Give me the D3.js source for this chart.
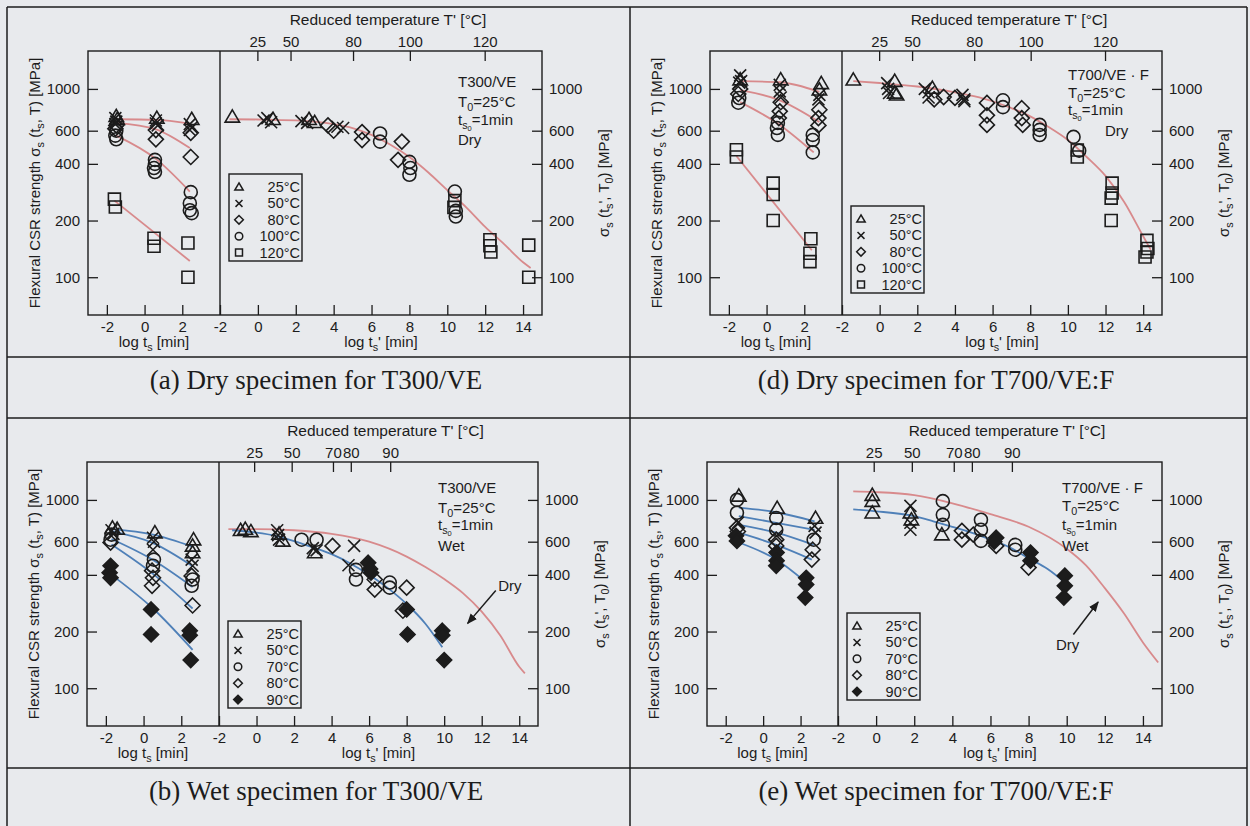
<!DOCTYPE html>
<html>
<head>
<meta charset="utf-8">
<script src="https://cdn.jsdelivr.net/npm/d3@7"></script>
<style>
  body { margin: 0; background: #e8eaed; }
  svg { display: block; font-family: "Liberation Sans", Arial, sans-serif; }
</style>
</head>
<body>
<script>
'use strict';

/* ---------- shared axis values ---------- */
const yTicks = [100, 200, 400, 600, 1000];
const leftXTicks = [-2, 0, 2];
const rightXTicks = [-2, 0, 2, 4, 6, 8, 10, 12, 14];

const dryTemps = ['25°C', '50°C', '80°C', '100°C', '120°C'];
const dryShapes = ['triangle', 'cross', 'diamond', 'circle', 'square'];
const wetTemps = ['25°C', '50°C', '70°C', '80°C', '90°C'];
const wetShapes = ['triangle', 'cross', 'circle', 'diamond', 'filledDiamond'];

/* reduced temperature ticks on top axis: label and log t' position */
const dryTopTemps = [25, 50, 80, 100, 120];
const dryTopPos = [0, 1.75, 5.05, 8.05, 12.0];
const wetTopTemps = [25, 50, 70, 80, 90];
const wetTopPos = [-0.1, 1.9, 4.1, 5.05, 7.15];

/* ---------- (a) dry T300/VE : [log t, MPa, series] ---------- */
const aLeftPts = [
  [-1.5,715,0],[-1.45,690,0],[-1.55,700,1],[-1.5,670,1],[-1.55,650,1],[-1.5,640,2],[-1.55,615,2],
  [-1.5,600,3],[-1.55,565,3],[-1.5,540,3],[-1.6,260,4],[-1.55,236,4],
  [0.65,700,0],[0.6,680,1],[0.6,655,1],[0.7,640,1],[0.6,605,2],[0.6,540,2],
  [0.55,420,3],[0.55,400,3],[0.5,380,3],[0.55,362,3],[0.5,161,4],[0.5,146,4],
  [2.5,690,0],[2.4,650,1],[2.5,625,1],[2.4,605,1],[2.45,585,2],[2.45,435,2],
  [2.45,283,3],[2.4,247,3],[2.4,227,3],[2.5,219,3],[2.3,152,4],[2.3,100,4]
];
const aLeftFits = [
  [[-1.5,690],[0.6,685],[2.4,655]],
  [[-1.5,660],[0.6,610],[2.4,485]],
  [[-1.5,565],[0.6,425],[2.4,285]],
  [[-1.6,255],[2.4,122]]
];
const aRightPts = [
  [-1.35,710,0],[0.3,680,1],[0.5,700,1],[0.7,665,1],[0.8,690,0],[2.3,675,1],[2.6,660,1],[2.7,690,0],[3.0,665,0],
  [3.7,640,2],[4.0,600,2],[4.2,630,1],[4.5,620,1],
  [5.5,590,2],[5.5,535,2],[6.45,580,3],[6.45,525,3],[7.6,525,2],[7.4,420,2],
  [8.0,410,3],[8.05,380,3],[8.0,350,3],
  [10.4,285,3],[10.4,255,4],[10.35,235,4],[10.45,225,3],[10.45,210,3],
  [12.25,158,4],[12.25,147,4],[12.3,136,4],[14.3,148,4],[14.3,100,4]
];
const aMaster = [[-1.5,690],[0,688],[2,680],[4,650],[5,620],[6,570],[7,505],[8,435],[9,360],[10,290],[11,235],[12,185],[13,150],[14,120],[14.4,112]];

/* ---------- (d) dry T700/VE:F ---------- */
const dLeftPts = [
  [-1.4,1120,0],[-1.4,1180,1],[-1.35,1100,1],[-1.45,1080,1],[-1.4,1000,2],[-1.5,940,2],[-1.45,895,3],[-1.5,845,3],
  [-1.6,475,4],[-1.6,435,4],
  [0.75,1120,0],[0.7,1050,1],[0.7,970,1],[0.75,900,1],[0.75,850,2],[0.7,760,2],[0.65,700,2],
  [0.6,660,3],[0.55,620,3],[0.6,570,3],[0.35,316,4],[0.35,275,4],[0.35,200,4],
  [2.9,1070,0],[2.8,990,0],[2.8,930,1],[2.75,880,1],[2.8,775,2],[2.75,700,2],[2.75,640,2],
  [2.45,570,3],[2.45,535,3],[2.45,460,3],[2.35,160,4],[2.3,134,4],[2.3,121,4]
];
const dLeftFits = [
  [[-1.4,1100],[0.7,1085],[2.8,965]],
  [[-1.4,985],[0.7,870],[2.8,667]],
  [[-1.4,851],[0.7,644],[2.5,460]],
  [[-1.6,440],[2.4,139]]
];
const dRightPts = [
  [-1.4,1117,0],[0.4,1074,1],[0.45,1000,1],[0.5,952,1],[0.8,1100,0],[0.8,952,0],[0.9,930,0],
  [2.4,1000,1],[2.6,960,1],[2.6,900,1],[2.8,1010,0],[2.9,880,2],
  [3.4,906,2],[4.0,896,2],[4.4,930,1],[4.5,880,1],[4.5,860,1],
  [5.7,843,2],[5.7,724,2],[5.7,644,2],[6.55,870,3],[6.55,800,3],
  [7.55,790,2],[7.55,700,2],[7.6,644,2],[8.5,644,3],[8.5,606,3],[8.5,569,3],
  [10.3,556,3],[10.5,474,4],[10.5,435,4],[10.6,470,3],
  [12.35,316,4],[12.35,280,4],[12.3,263,4],[12.3,200,4],
  [14.2,157,4],[14.25,142,4],[14.1,128,4],[14.2,136,4]
];
const dMaster = [[-1.4,1100],[0,1075],[2,1030],[4,960],[5,915],[6,860],[7,790],[8,715],[9,625],[10,535],[11,435],[12,345],[13,250],[14,165],[14.4,140]];

/* ---------- (b) wet T300/VE ---------- */
const bLeftPts = [
  [-1.65,711,0],[-1.4,700,0],[-1.7,690,1],[-1.6,660,1],[-1.7,654,2],[-1.75,615,2],[-1.75,594,3],
  [-1.75,447,4],[-1.8,411,4],[-1.75,386,4],
  [0.6,670,0],[0.5,630,1],[0.55,600,1],[0.5,544,1],[0.55,482,2],[0.5,447,2],
  [0.45,421,3],[0.5,386,3],[0.45,350,3],[0.4,262,4],[0.4,193,4],
  [2.65,615,0],[2.6,570,0],[2.6,525,0],[2.55,482,1],[2.6,447,1],[2.6,378,2],[2.55,350,2],
  [2.55,395,3],[2.6,275,3],[2.45,202,4],[2.45,191,4],[2.5,141,4]
];
const bLeftFits = [
  [[-1.7,700],[0.5,655],[2.6,565]],
  [[-1.7,680],[0.5,590],[2.6,445]],
  [[-1.7,620],[0.5,480],[2.6,345]],
  [[-1.7,580],[0.5,405],[2.6,265]],
  [[-1.7,400],[0.5,265],[2.6,160]]
];
const bRightPts = [
  [-0.85,690,0],[-0.6,700,0],[-0.3,680,0],[1.1,690,1],[1.15,650,1],[1.2,615,1],[1.4,606,0],[1.2,660,0],
  [2.4,615,2],[3.0,555,1],[3.1,525,0],[3.2,540,1],[3.2,615,2],[4.05,570,3],
  [5.2,570,1],[4.9,450,1],[5.3,425,2],[5.3,378,2],[5.95,464,4],[6.05,430,4],[6.1,411,4],[6.3,378,3],[6.3,334,3],
  [7.1,364,2],[7.1,342,2],[8.0,342,3],[7.8,258,3],[8.0,262,4],[8.05,193,4],
  [9.9,202,4],[9.9,191,4],[10.0,141,4]
];
const bMaster = [[-1.3,690],[0,670],[1,645],[2,605],[3,560],[4,515],[5,460],[6,400],[7,340],[8,280],[9,220],[9.9,165]];
const bDryRef = [[-1.5,700],[0,700],[2,690],[4,660],[6,600],[8,500],[9,440],[10,380],[11,320],[12,255],[13,190],[14,130],[14.3,120]];
const bArrow = [[12.75,330],[11.25,221]];
const bDryLabel = [13.5,350];

/* ---------- (e) wet T700/VE:F ---------- */
const eLeftPts = [
  [-1.3,1050,0],[-1.4,1000,2],[-1.4,855,2],[-1.35,756,1],[-1.4,711,3],[-1.35,680,3],[-1.45,645,4],[-1.4,606,4],
  [0.75,905,0],[0.7,801,2],[0.7,694,2],[0.72,645,1],[0.7,615,3],[0.7,570,3],[0.72,525,4],[0.72,476,4],[0.7,447,4],
  [2.8,801,0],[2.75,728,1],[2.8,670,1],[2.7,615,2],[2.65,544,3],[2.6,482,3],[2.3,386,4],[2.3,355,4],[2.25,303,4]
];
const eLeftFits = [
  [[-1.3,910],[0.7,860],[2.75,770]],
  [[-1.3,820],[0.7,756],[2.75,694]],
  [[-1.3,737],[0.7,670],[2.7,577]],
  [[-1.3,670],[0.7,577],[2.6,482]],
  [[-1.3,594],[0.7,482],[2.3,364]]
];
const eRightPts = [
  [-0.2,1060,0],[-0.2,985,0],[-0.2,855,0],[1.8,930,1],[1.8,756,1],[1.8,694,1],[1.8,855,0],[1.85,785,0],
  [3.5,985,2],[3.5,833,2],[3.5,737,2],[3.45,654,0],[4.5,685,3],[4.5,615,3],[5.1,654,3],
  [5.5,785,2],[5.5,694,2],[5.5,606,2],[6.3,630,4],[6.3,570,3],[6.2,600,4],
  [7.3,577,2],[7.3,544,2],[8.1,525,4],[8.1,476,4],[8.0,437,3],
  [9.9,396,4],[9.9,350,4],[9.85,303,4]
];
const eMaster = [[-1.2,890],[0,870],[2,820],[3,770],[4,720],[5,670],[6,615],[7,560],[8,490],[9,430],[9.9,365]];
const eDryRef = [[-1.2,1110],[0,1100],[2,1060],[4,960],[6,840],[8,720],[10,550],[11,450],[12,340],[13,250],[14,175],[14.8,137]];
const eArrow = [[10.35,193],[11.65,287]];
const eDryLabel = [10.05,169];

/* ---------- colours ---------- */
const ink = '#1c1c1c';
const pink = '#d88a8c';
const blue = '#4f80b8';
const fs = 15;

const svg = d3.select('body').append('svg')
  .attr('width', 1250)
  .attr('height', 826);

svg.append('defs').append('marker')
  .attr('id', 'arrowhead')
  .attr('viewBox', '0 0 10 10')
  .attr('refX', 9).attr('refY', 5)
  .attr('markerWidth', 7).attr('markerHeight', 7)
  .attr('orient', 'auto')
  .append('path')
    .attr('d', 'M0,1L10,5L0,9Z')
    .attr('fill', ink);

/* outer table grid of the figure */
const gridH = [7, 357, 418, 768];
const gridV = [7, 630, 1247];
gridH.forEach(function(y){
  svg.append('line').attr('x1', 7).attr('x2', 1247).attr('y1', y).attr('y2', y)
    .attr('stroke', ink).attr('stroke-width', 1.5);
});
gridV.forEach(function(x){
  svg.append('line').attr('x1', x).attr('x2', x).attr('y1', 7).attr('y2', 826)
    .attr('stroke', ink).attr('stroke-width', 1.5);
});

/* text with sub / sub-sub scripts: parts are strings or [text, level] */
function rich(sel, parts){
  let shift = 0;
  parts.forEach(function(pt){
    let txt = typeof pt === 'string' ? pt : pt[0];
    let lvl = typeof pt === 'string' ? 0 : pt[1];
    let target = lvl === 1 ? 4 : (lvl === 2 ? 6 : 0);
    sel.append('tspan')
      .attr('dy', target - shift)
      .attr('font-size', lvl === 1 ? '0.72em' : (lvl === 2 ? '0.5em' : null))
      .text(txt);
    shift = target;
  });
}

/* marker outline for each series shape, k scales it */
function shapePath(shape, k){
  let p = d3.path();
  if (shape === 'triangle'){
    p.moveTo(0, -7*k); p.lineTo(7.2*k, 5.2*k); p.lineTo(-7.2*k, 5.2*k); p.closePath();
  } else if (shape === 'square'){
    p.rect(-6*k, -6*k, 12*k, 12*k);
  } else if (shape === 'circle'){
    p.arc(0, 0, 6.5*k, 0, 2*Math.PI);
  } else if (shape === 'cross'){
    p.moveTo(-6*k, -6*k); p.lineTo(6*k, 6*k);
    p.moveTo(6*k, -6*k); p.lineTo(-6*k, 6*k);
  } else {
    p.moveTo(0, -7.5*k); p.lineTo(7.5*k, 0); p.lineTo(0, 7.5*k); p.lineTo(-7.5*k, 0); p.closePath();
  }
  return p.toString();
}

function drawMarks(g, pts, xs, y, shapes){
  g.append('g').selectAll('path')
    .data(pts)
    .enter().append('path')
      .attr('d', function(d){ return shapePath(shapes[d[2]], 1); })
      .attr('transform', function(d){ return 'translate(' + xs(d[0]) + ',' + y(d[1]) + ')'; })
      .attr('fill', function(d){ return shapes[d[2]] === 'filledDiamond' ? ink : 'none'; })
      .attr('stroke', ink)
      .attr('stroke-width', 1.6);
}

function drawPanel(p){
  let g = svg.append('g');
  let xL = d3.scaleLinear().domain([-3, 4]).range([p.x0, p.xd]);
  let xR = d3.scaleLinear().domain([-2, 15]).range([p.xd, p.x1]);
  let y = d3.scaleLog().domain([63, 1590]).range([p.yB, p.yT]);
  let lineOn = function(xs){
    return d3.line().x(function(d){ return xs(d[0]); }).y(function(d){ return y(d[1]); })
      .curve(d3.curveMonotoneX);
  };
  let fitColor = p.wet ? blue : pink;

  /* fitted curves */
  p.leftFits.forEach(function(f){
    g.append('path').attr('d', lineOn(xL)(f))
      .attr('fill', 'none').attr('stroke', fitColor).attr('stroke-width', 1.8);
  });
  if (p.dryRef){
    g.append('path').attr('d', lineOn(xR)(p.dryRef))
      .attr('fill', 'none').attr('stroke', pink).attr('stroke-width', 1.8);
  }
  g.append('path').attr('d', lineOn(xR)(p.master))
    .attr('fill', 'none').attr('stroke', fitColor).attr('stroke-width', 1.8);

  /* data points */
  drawMarks(g, p.leftPts, xL, y, p.shapes);
  drawMarks(g, p.rightPts, xR, y, p.shapes);

  /* frames */
  g.append('rect')
    .attr('x', p.x0).attr('y', p.yT)
    .attr('width', p.x1 - p.x0).attr('height', p.yB - p.yT)
    .attr('fill', 'none').attr('stroke', ink).attr('stroke-width', 1.4);
  g.append('line')
    .attr('x1', p.xd).attr('x2', p.xd).attr('y1', p.yT).attr('y2', p.yB)
    .attr('stroke', ink).attr('stroke-width', 1.4);

  /* axes */
  let styleAxis = function(a){
    a.select('.domain').remove();
    a.selectAll('line').attr('stroke', ink).attr('stroke-width', 1.3);
    a.selectAll('text').attr('font-size', fs).attr('fill', ink)
      .attr('font-family', '"Liberation Sans", Arial, sans-serif');
  };
  let fmt = function(d){ return String(d); };
  g.append('g').attr('transform', 'translate(' + p.x0 + ',0)')
    .call(d3.axisLeft(y).tickValues(yTicks).tickFormat(fmt).tickSize(-10).tickPadding(8))
    .call(styleAxis);
  g.append('g').attr('transform', 'translate(' + p.x1 + ',0)')
    .call(d3.axisRight(y).tickValues(yTicks).tickFormat(fmt).tickSize(-10).tickPadding(7))
    .call(styleAxis);
  g.append('g').attr('transform', 'translate(0,' + p.yB + ')')
    .call(d3.axisBottom(xL).tickValues(leftXTicks).tickFormat(fmt).tickSize(-10).tickPadding(6))
    .call(styleAxis);
  g.append('g').attr('transform', 'translate(0,' + p.yB + ')')
    .call(d3.axisBottom(xR).tickValues(rightXTicks).tickFormat(fmt).tickSize(-10).tickPadding(6))
    .call(styleAxis);

  /* top axis: reduced temperature */
  let top = g.append('g');
  p.topPos.forEach(function(pos, i){
    top.append('line')
      .attr('x1', xR(pos)).attr('x2', xR(pos))
      .attr('y1', p.yT).attr('y2', p.yT + 10)
      .attr('stroke', ink).attr('stroke-width', 1.3);
    top.append('text')
      .attr('x', xR(pos)).attr('y', p.yT - 4)
      .attr('text-anchor', 'middle').attr('font-size', fs).attr('fill', ink)
      .text(p.topTemps[i]);
  });
  top.append('text')
    .attr('x', (p.xd + p.x1) / 2 + 7).attr('y', p.yT - 26)
    .attr('text-anchor', 'middle').attr('font-size', 15.5).attr('fill', ink)
    .text("Reduced temperature T' [°C]");

  /* axis titles */
  let lt = g.append('text')
    .attr('transform', 'translate(' + (p.x0 - 48) + ',' + ((p.yT + p.yB) / 2) + ') rotate(-90)')
    .attr('text-anchor', 'middle').attr('font-size', fs).attr('fill', ink);
  rich(lt, ['Flexural CSR strength σ', ['s', 1], ' (t', ['s', 1], ', T) [MPa]']);
  let rt = g.append('text')
    .attr('transform', 'translate(' + (p.x1 + 67) + ',' + ((p.yT + p.yB) / 2) + ') rotate(-90)')
    .attr('text-anchor', 'middle').attr('font-size', fs).attr('fill', ink);
  rich(rt, ['σ', ['s', 1], " (t", ['s', 1], "', T", ['0', 1], ') [MPa]']);
  let bl = g.append('text')
    .attr('x', (p.x0 + p.xd) / 2).attr('y', p.yB + 32)
    .attr('text-anchor', 'middle').attr('font-size', fs).attr('fill', ink);
  rich(bl, ['log t', ['s', 1], ' [min]']);
  let br = g.append('text')
    .attr('x', (p.xd + p.x1) / 2).attr('y', p.yB + 32)
    .attr('text-anchor', 'middle').attr('font-size', fs).attr('fill', ink);
  rich(br, ['log t', ['s', 1], "' [min]"]);

  /* condition annotation */
  let ann = [
    [p.material],
    ['T', ['0', 1], '=25°C'],
    ['t', ['s', 1], ['0', 2], '=1min']
  ];
  ann.forEach(function(parts, i){
    let t = g.append('text')
      .attr('x', p.x1 - p.annDx).attr('y', p.yT + p.annDy[i])
      .attr('font-size', fs).attr('fill', ink);
    rich(t, parts);
  });
  g.append('text')
    .attr('x', p.x1 - p.condDx).attr('y', p.yT + p.annDy[3])
    .attr('font-size', fs).attr('fill', ink)
    .text(p.wet ? 'Wet' : 'Dry');

  /* legend */
  let lx = p.xd + 9, ly = p.yT + p.legTop;
  g.append('rect')
    .attr('x', lx).attr('y', ly).attr('width', 73).attr('height', 87)
    .attr('fill', 'none').attr('stroke', ink).attr('stroke-width', 1.4);
  p.temps.forEach(function(t, i){
    let ry = ly + 13 + i * 16.4;
    g.append('path')
      .attr('d', shapePath(p.shapes[i], 0.58))
      .attr('transform', 'translate(' + (lx + 10) + ',' + ry + ')')
      .attr('fill', p.shapes[i] === 'filledDiamond' ? ink : 'none')
      .attr('stroke', ink).attr('stroke-width', 1.5);
    g.append('text')
      .attr('x', lx + 71).attr('y', ry + 5)
      .attr('text-anchor', 'end').attr('font-size', 14.5).attr('fill', ink)
      .text(t);
  });

  /* arrow pointing to the dry master curve */
  if (p.arrow){
    g.append('line')
      .attr('x1', xR(p.arrow[0][0])).attr('y1', y(p.arrow[0][1]))
      .attr('x2', xR(p.arrow[1][0])).attr('y2', y(p.arrow[1][1]))
      .attr('stroke', ink).attr('stroke-width', 1.5)
      .attr('marker-end', 'url(#arrowhead)');
    g.append('text')
      .attr('x', xR(p.dryLabel[0])).attr('y', y(p.dryLabel[1]) + 5)
      .attr('text-anchor', 'middle').attr('font-size', fs).attr('fill', ink)
      .text('Dry');
  }

  /* caption */
  svg.append('text')
    .attr('x', p.capX).attr('y', p.capY)
    .attr('text-anchor', 'middle')
    .attr('font-family', '"Liberation Serif", "Times New Roman", serif')
    .attr('font-size', 27).attr('fill', ink)
    .text(p.caption);
}

drawPanel({
  x0: 88, xd: 220, x1: 542, yT: 51, yB: 315, wet: false,
  leftPts: aLeftPts, leftFits: aLeftFits, rightPts: aRightPts, master: aMaster,
  temps: dryTemps, shapes: dryShapes, topTemps: dryTopTemps, topPos: dryTopPos,
  material: 'T300/VE', annDx: 84, condDx: 84, annDy: [36, 56, 74, 94], legTop: 123,
  caption: '(a) Dry specimen for T300/VE', capX: 316, capY: 389
});
drawPanel({
  x0: 710, xd: 842, x1: 1162, yT: 51, yB: 315, wet: false,
  leftPts: dLeftPts, leftFits: dLeftFits, rightPts: dRightPts, master: dMaster,
  temps: dryTemps, shapes: dryShapes, topTemps: dryTopTemps, topPos: dryTopPos,
  material: 'T700/VE · F', annDx: 94, condDx: 57, annDy: [29, 47, 64, 85], legTop: 155,
  caption: '(d) Dry specimen for T700/VE:F', capX: 936, capY: 389
});
drawPanel({
  x0: 87, xd: 219, x1: 538, yT: 462, yB: 726, wet: true,
  leftPts: bLeftPts, leftFits: bLeftFits, rightPts: bRightPts, master: bMaster, dryRef: bDryRef,
  arrow: bArrow, dryLabel: bDryLabel,
  temps: wetTemps, shapes: wetShapes, topTemps: wetTopTemps, topPos: wetTopPos,
  material: 'T300/VE', annDx: 100, condDx: 100, annDy: [31, 51, 68, 89], legTop: 159,
  caption: '(b) Wet specimen for T300/VE', capX: 316, capY: 800
});
drawPanel({
  x0: 707, xd: 838, x1: 1162, yT: 462, yB: 726, wet: true,
  leftPts: eLeftPts, leftFits: eLeftFits, rightPts: eRightPts, master: eMaster, dryRef: eDryRef,
  arrow: eArrow, dryLabel: eDryLabel,
  temps: wetTemps, shapes: wetShapes, topTemps: wetTopTemps, topPos: wetTopPos,
  material: 'T700/VE · F', annDx: 100, condDx: 100, annDy: [31, 49, 68, 89], legTop: 151,
  caption: '(e) Wet specimen for T700/VE:F', capX: 936, capY: 800
});
</script>
</body>
</html>
